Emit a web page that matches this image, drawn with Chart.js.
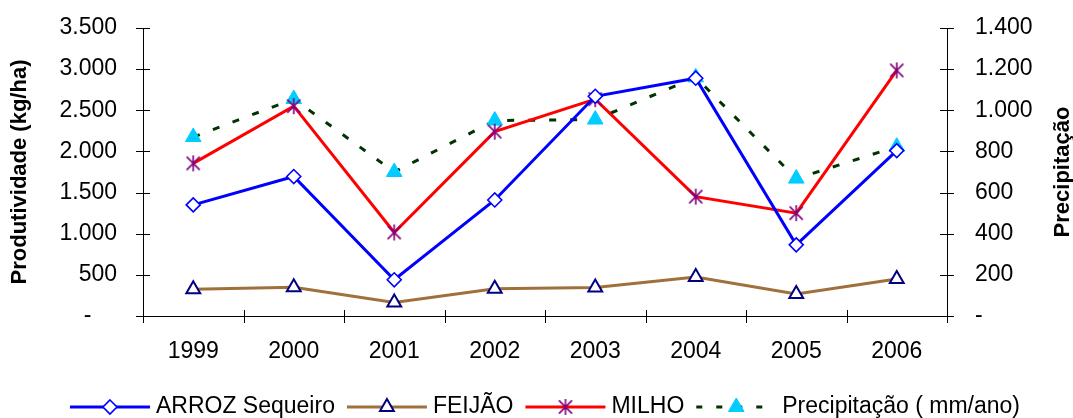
<!DOCTYPE html>
<html>
<head>
<meta charset="utf-8">
<script src="https://cdn.jsdelivr.net/npm/chart.js@4"></script>
<style>
    html, body { margin: 0; padding: 0; background: #fff; }
</style>
</head>
<body>
<canvas id="grafico" width="1073" height="418"></canvas>
<script>
// dados do gráfico
const anos = ['1999', '2000', '2001', '2002', '2003', '2004', '2005', '2006'];
const arroz = [1350, 1695, 440, 1410, 2670, 2890, 865, 2010];
const feijao = [325, 350, 165, 330, 345, 475, 268, 450];
const milho = [1855, 2550, 1015, 2240, 2635, 1450, 1250, 2985];
const precipitacao = [870, 1055, 700, 950, 955, 1160, 668, 823];

// rótulos dos eixos
const ticksProdutividade = ['-    ', '500', '1.000', '1.500', '2.000', '2.500', '3.000', '3.500'];
const ticksPrecipitacao = ['-', '200', '400', '600', '800', '1.000', '1.200', '1.400'];

const fonte = "'Liberation Sans', Arial, sans-serif";
Chart.defaults.font.family = fonte;
Chart.defaults.font.size = 23;
Chart.defaults.color = '#000';

// marcador asterisco (linha vertical + X)
function criaAsterisco(cor, tam) {
    const c = document.createElement('canvas');
    c.width = tam;
    c.height = tam;
    const g = c.getContext('2d');
    g.strokeStyle = cor;
    g.lineWidth = 1.6;
    const m = tam / 2, r = tam / 2 - 1, d = r * 0.82;
    g.beginPath();
    g.moveTo(m, m - r); g.lineTo(m, m + r);
    g.moveTo(m - d, m - d); g.lineTo(m + d, m + d);
    g.moveTo(m + d, m - d); g.lineTo(m - d, m + d);
    g.stroke();
    return c;
}
const asterisco = criaAsterisco('#800080', 18);

// desenha um marcador simples (usado na legenda)
function marcador(ctx, tipo, x, y) {
    ctx.save();
    if (tipo === 'losango') {
        ctx.fillStyle = '#fff'; ctx.strokeStyle = '#0000ff'; ctx.lineWidth = 1.6;
        ctx.beginPath();
        ctx.moveTo(x, y - 7); ctx.lineTo(x + 7, y); ctx.lineTo(x, y + 7); ctx.lineTo(x - 7, y);
        ctx.closePath(); ctx.fill(); ctx.stroke();
    } else if (tipo === 'triangulo' || tipo === 'trianguloCheio') {
        const r = tipo === 'triangulo' ? 8 : 9;
        ctx.fillStyle = tipo === 'triangulo' ? '#fff' : '#00ccff';
        ctx.strokeStyle = tipo === 'triangulo' ? '#000080' : '#00ccff';
        ctx.lineWidth = tipo === 'triangulo' ? 2 : 1;
        ctx.beginPath();
        ctx.moveTo(x, y - r);
        ctx.lineTo(x + r * 0.866, y + r * 0.5);
        ctx.lineTo(x - r * 0.866, y + r * 0.5);
        ctx.closePath(); ctx.fill(); ctx.stroke();
    } else if (tipo === 'asterisco') {
        ctx.drawImage(asterisco, x - 9, y - 9);
    }
    ctx.restore();
}

const itensLegenda = [
    { texto: 'ARROZ Sequeiro', cor: '#0000ff', dash: [], tipo: 'losango' },
    { texto: 'FEIJÃO', cor: '#a0703c', dash: [], tipo: 'triangulo' },
    { texto: 'MILHO', cor: '#ff0000', dash: [], tipo: 'asterisco' },
    { texto: 'Precipitação ( mm/ano)', cor: '#003300', dash: [6, 14], tipo: 'trianguloCheio' }
];

// sem folga extra dos rótulos nas bordas da área do gráfico
function semFolga(s) {
    s.paddingTop = 0;
    s.paddingBottom = 0;
    s.paddingLeft = 0;
    s.paddingRight = 0;
}

// marcas dos eixos (cruzando a linha), títulos e legenda
const extras = {
    id: 'extras',
    beforeDatasetsDraw(chart) {
        const { ctx, chartArea: a, scales } = chart;
        ctx.save();
        ctx.strokeStyle = '#000';
        ctx.lineWidth = 1;
        ctx.beginPath();
        scales.y.ticks.forEach((t, i) => {
            const py = Math.round(scales.y.getPixelForTick(i)) + 0.5;
            ctx.moveTo(a.left - 7, py); ctx.lineTo(a.left + 7, py);
        });
        scales.y1.ticks.forEach((t, i) => {
            const py = Math.round(scales.y1.getPixelForTick(i)) + 0.5;
            ctx.moveTo(a.right - 7, py); ctx.lineTo(a.right + 7, py);
        });
        for (let i = 0; i <= anos.length; i++) {
            const px = Math.round(scales.x.getPixelForValue(i - 0.5)) + 0.5;
            ctx.moveTo(px, a.bottom - 6); ctx.lineTo(px, a.bottom + 7);
        }
        ctx.stroke();
        ctx.restore();
    },
    afterDraw(chart) {
        const { ctx, chartArea: a } = chart;
        const meio = (a.top + a.bottom) / 2;
        ctx.save();
        ctx.fillStyle = '#000';
        ctx.textAlign = 'center';
        ctx.textBaseline = 'middle';
        ctx.font = 'bold 22px ' + fonte;
        ctx.translate(20, meio);
        ctx.rotate(-Math.PI / 2);
        ctx.fillText('Produtividade (kg/ha)', 0, 0);
        ctx.restore();

        ctx.save();
        ctx.fillStyle = '#000';
        ctx.textAlign = 'center';
        ctx.textBaseline = 'middle';
        ctx.font = 'bold 22px ' + fonte;
        ctx.translate(1063, meio);
        ctx.rotate(-Math.PI / 2);
        ctx.fillText('Precipitação', 0, 0);
        ctx.restore();

        // legenda
        ctx.save();
        ctx.font = '23px ' + fonte;
        const linha = 80, gapTexto = 6, gapItem = 12;
        let total = 0;
        itensLegenda.forEach(it => {
            it.largura = ctx.measureText(it.texto).width;
            total += linha + gapTexto + it.largura;
        });
        total += gapItem * (itensLegenda.length - 1);
        let x = 545 - total / 2;
        const y = 407;
        itensLegenda.forEach(it => {
            ctx.save();
            ctx.strokeStyle = it.cor;
            ctx.lineWidth = 3;
            ctx.setLineDash(it.dash);
            ctx.beginPath();
            ctx.moveTo(x, y); ctx.lineTo(x + linha, y);
            ctx.stroke();
            ctx.restore();
            marcador(ctx, it.tipo, x + linha / 2, y);
            ctx.fillStyle = '#000';
            ctx.textAlign = 'left';
            ctx.textBaseline = 'middle';
            ctx.fillText(it.texto, x + linha + gapTexto, y);
            x += linha + gapTexto + it.largura + gapItem;
        });
        ctx.restore();
    }
};

const ctx = document.getElementById('grafico').getContext('2d');
const chart = new Chart(ctx, {
    type: 'line',
    data: {
        labels: anos,
        datasets: [
            {
                label: 'ARROZ Sequeiro',
                data: arroz,
                yAxisID: 'y',
                borderColor: '#0000ff',
                borderWidth: 3,
                pointStyle: 'rectRot',
                pointRadius: 7,
                pointBackgroundColor: '#fff',
                pointBorderColor: '#0000ff',
                pointBorderWidth: 1.6
            },
            {
                label: 'FEIJÃO',
                data: feijao,
                yAxisID: 'y',
                borderColor: '#a0703c',
                borderWidth: 3,
                pointStyle: 'triangle',
                pointRadius: 8,
                pointBackgroundColor: '#fff',
                pointBorderColor: '#000080',
                pointBorderWidth: 2
            },
            {
                label: 'MILHO',
                data: milho,
                yAxisID: 'y',
                borderColor: '#ff0000',
                borderWidth: 3,
                pointStyle: asterisco
            },
            {
                label: 'Precipitação ( mm/ano)',
                data: precipitacao,
                yAxisID: 'y1',
                borderColor: '#003300',
                borderWidth: 3,
                borderDash: [7, 14],
                pointStyle: 'triangle',
                pointRadius: 9,
                pointBackgroundColor: '#00ccff',
                pointBorderColor: '#00ccff',
                pointBorderWidth: 1
            }
        ]
    },
    options: {
        responsive: false,
        animation: false,
        layout: { padding: { top: 28, left: 0, right: 0, bottom: 0 } },
        plugins: {
            legend: { display: false },
            tooltip: { enabled: false }
        },
        scales: {
            x: {
                offset: true,
                grid: { display: false },
                border: { display: true, color: '#000', width: 1 },
                ticks: { padding: 14, maxRotation: 0 },
                afterFit: s => { s.height = 102; semFolga(s); }
            },
            y: {
                position: 'left',
                min: 0,
                max: 3500,
                grid: { display: false },
                border: { display: true, color: '#000', width: 1 },
                ticks: {
                    stepSize: 500,
                    padding: 18,
                    callback: (v, i) => ticksProdutividade[i]
                },
                afterFit: s => { s.width = 143; semFolga(s); }
            },
            y1: {
                position: 'right',
                min: 0,
                max: 1400,
                grid: { display: false },
                border: { display: true, color: '#000', width: 1 },
                ticks: {
                    stepSize: 200,
                    padding: 20,
                    callback: (v, i) => ticksPrecipitacao[i]
                },
                afterFit: s => { s.width = 126; semFolga(s); }
            }
        }
    },
    plugins: [extras]
});
</script>
</body>
</html>
